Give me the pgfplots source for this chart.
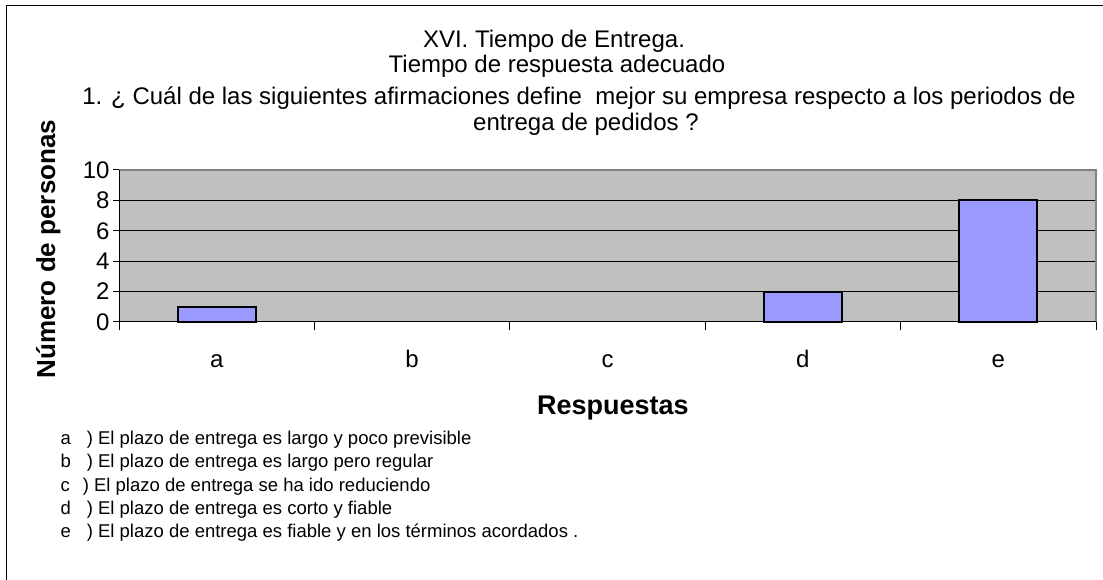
\documentclass[border=0pt]{standalone}
\usepackage{pgfplots}
\pgfplotsset{compat=1.18}
\usepackage{fontspec}
\setmainfont{Liberation Sans}
\definecolor{plotgray}{HTML}{C0C0C0}
\definecolor{barblue}{HTML}{9999FF}
\definecolor{framegray}{HTML}{808080}
\pgfplotstableread{
x y
0 1
3 2
4 8
}\datatable
\begin{document}
\begin{tikzpicture}[x=1pt,y=1pt]
\path[use as bounding box] (0,0) rectangle (1103,580);
\draw[black, line width=1pt] (6,0) -- (6,574) -- (1103,574);
\begin{scope}[every node/.style={font=\fontsize{24}{28}\selectfont, anchor=base}]
\node at (554,{580-48}) {XVI. Tiempo de Entrega.};
\node at (557,{580-73}) {Tiempo de respuesta adecuado};
\node at (579,{580-105}) {1. ¿ Cuál de las siguientes afirmaciones define\ \ mejor su empresa respecto a los periodos de};
\node at (586,{580-131}) {entrega de pedidos ?};
\end{scope}
\begin{scope}[every node/.style={font=\fontsize{18.5}{22}\selectfont, anchor=base west}]
\node at (57,{580-445}) {a\hspace{16pt}) El plazo de entrega es largo y poco previsible};
\node at (57,{580-468}) {b\hspace{16pt}) El plazo de entrega es largo pero regular};
\node at (57,{580-492}) {c\hspace{13pt}) El plazo de entrega se ha ido reduciendo};
\node at (57,{580-515}) {d\hspace{16pt}) El plazo de entrega es corto y fiable};
\node at (57,{580-538}) {e\hspace{16pt}) El plazo de entrega es fiable y en los términos acordados .};
\end{scope}
\begin{axis}[
  at={(119pt,258pt)}, anchor=south west,
  scale only axis, width=977pt, height=152pt,
  xmin=-0.5, xmax=4.5, ymin=0, ymax=10,
  ytick={0,2,...,10},
  xtick={0,...,4}, xticklabels={a,b,c,d,e},
  minor xtick={-0.5,0.5,...,4.5},
  every major x tick/.append style={draw=none},
  tick align=outside, tick pos=left,
  major tick length=6pt, minor tick length=8pt,
  every tick/.append style={black, line width=1pt},
  ymajorgrids, grid style={black, line width=1pt},
  axis background/.style={fill=plotgray},
  axis line style={draw=none},
  /pgf/number format/assume math mode=true,
  ticklabel style={font=\fontsize{24}{28}\selectfont},
  xticklabel style={anchor=base, yshift=-40pt},
  xlabel={Respuestas}, ylabel={Número de personas},
  xlabel style={font=\fontsize{27}{31}\selectfont\bfseries, at={(axis description cs:0.5056,-0.6118)}, anchor=base},
  ylabel style={font=\fontsize{26}{30}\selectfont\bfseries, at={(axis description cs:-0.0655,0.48)}, anchor=base, rotate=0},
  clip=false,
]
\addplot[ybar, bar width=78pt, fill=barblue, draw=black, line width=2pt] table[x=x,y=y] {\datatable};
\draw[framegray, line width=2pt] (rel axis cs:0,1) -- (rel axis cs:1,1) -- (rel axis cs:1,0);
\draw[black, line width=1pt] (rel axis cs:0,1) -- (rel axis cs:0,0) -- (rel axis cs:1,0);
\end{axis}
\end{tikzpicture}
\end{document}
